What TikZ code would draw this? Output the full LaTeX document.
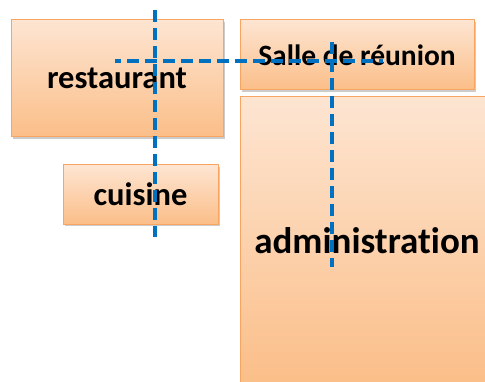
\documentclass[tikz,border=0pt]{standalone}
\usepackage{fontspec}
\setmainfont{Carlito}[Ligatures={NoCommon}]
\usetikzlibrary{shadows}
\definecolor{boxtop}{HTML}{FDE5D2}
\definecolor{boxbot}{HTML}{FBBE88}
\definecolor{boxline}{HTML}{F8A562}
\definecolor{cutblue}{HTML}{0070C0}
\tikzset{
  room/.style={draw=boxline, line width=1pt, top color=boxtop, bottom color=boxbot,
    drop shadow={shadow xshift=2pt, shadow yshift=-2pt, opacity=0.2, fill=black},
    inner sep=0pt, font=\bfseries},
  cutline/.style={draw=cutblue, line width=3.6pt, dash pattern=on 12pt off 6pt}
}
\begin{document}
\begin{tikzpicture}[x=1pt,y=1pt]
\useasboundingbox (0,0) rectangle (485,381);
\node[room, minimum width=212pt, minimum height=117pt, font=\bfseries\fontsize{32.5}{33}\selectfont] (rest) at (117,302.5) {restaurant};
\node[room, minimum width=234pt, minimum height=70pt, font=\bfseries\fontsize{29.5}{30}\selectfont] (salle) at (357,326) {Salle de réunion};
\node[room, minimum width=155pt, minimum height=59pt, font=\bfseries\fontsize{32.5}{33}\selectfont] (cuis) at (140.5,186.5) {cuisine};
\node[room, minimum width=254pt, minimum height=288pt, font=\bfseries\fontsize{37}{38}\selectfont] (admin) at (367,140) {administration};
\coordinate (v1a) at (155,371);
\coordinate (v1b) at (155,144);
\coordinate (ha) at (115,320);
\coordinate (hb) at (383,320);
\coordinate (v2a) at (332,339);
\coordinate (v2b) at (332,114);
\draw[cutline] (v1a) -- (v1b);
\draw[cutline, dash phase=6pt] (ha) -- (hb);
\draw[cutline] (v2a) -- (v2b);
\end{tikzpicture}
\end{document}
